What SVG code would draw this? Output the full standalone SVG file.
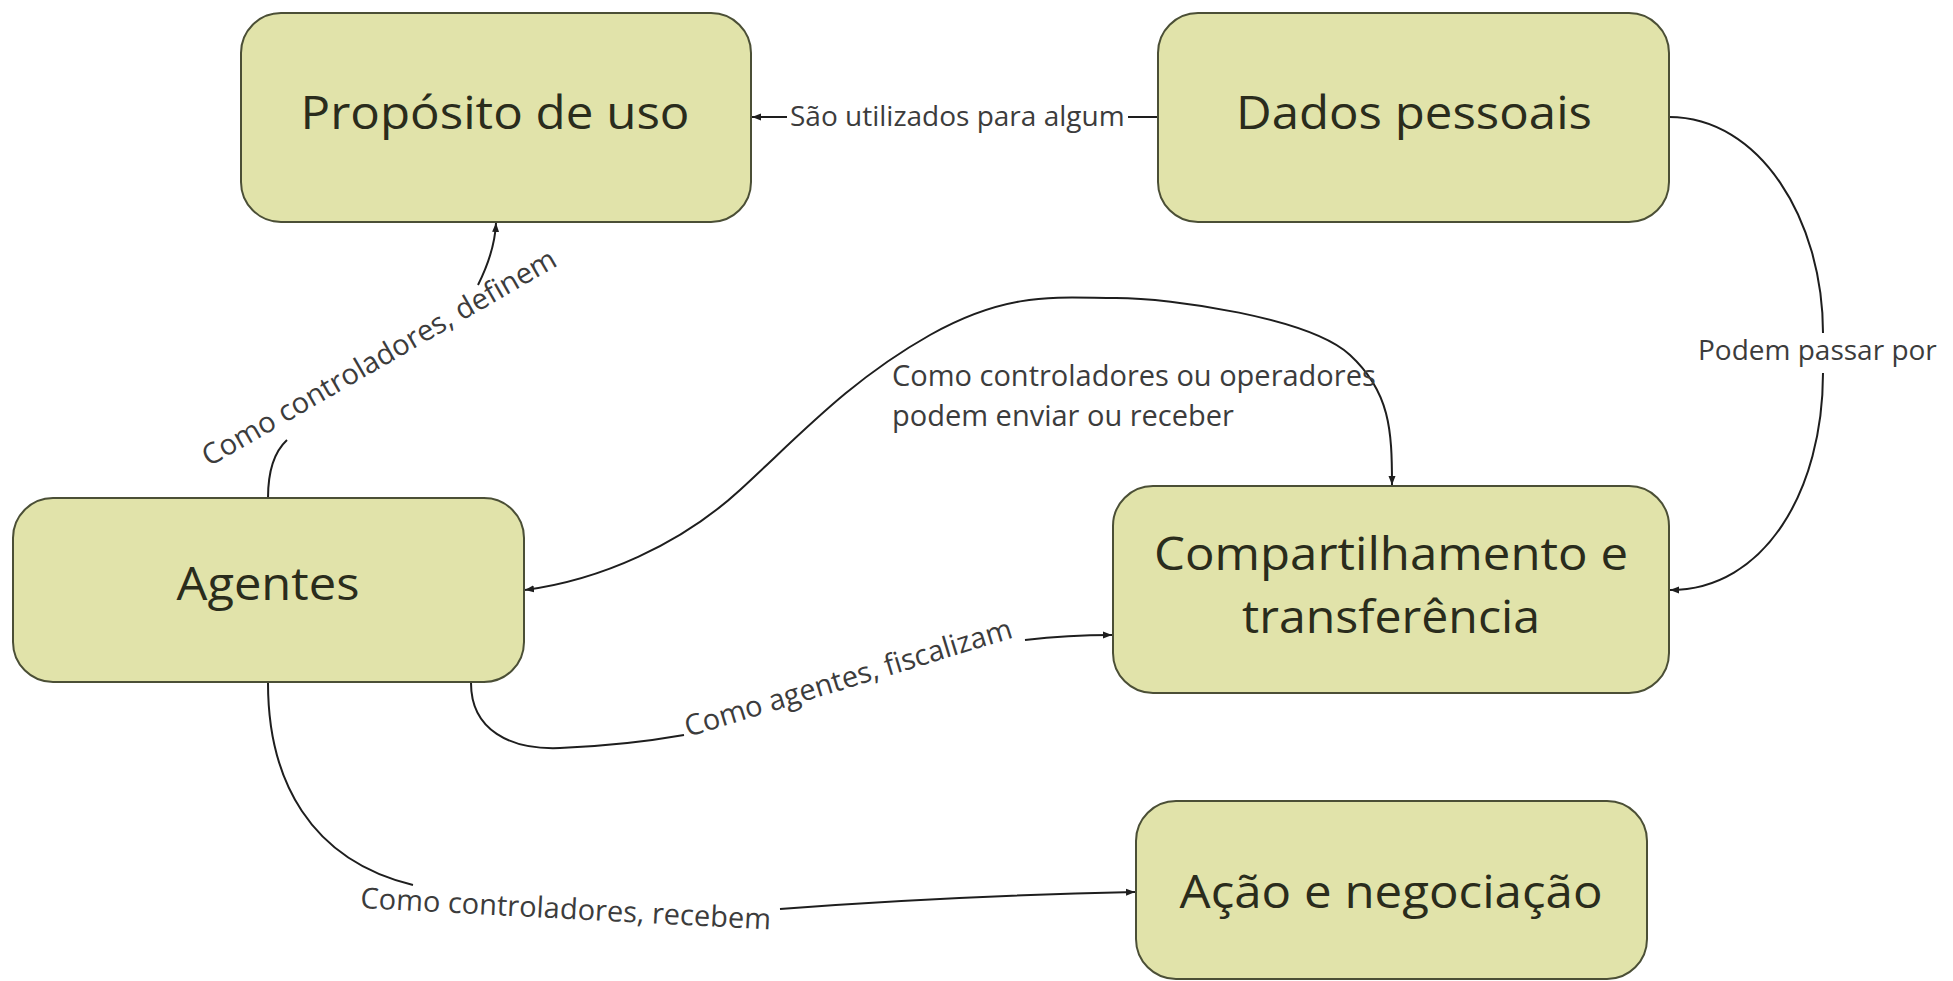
<svg xmlns="http://www.w3.org/2000/svg" width="1953" height="981" viewBox="0 0 1953 981">
<defs>
<marker id="arr" markerUnits="userSpaceOnUse" markerWidth="10" markerHeight="8" refX="9" refY="4" orient="auto-start-reverse" viewBox="0 0 10 8"><path d="M0,0.5 L9,4 L0,7.5 z" fill="#1e1e1e"/></marker>
</defs>
<style>
.node rect{fill:#e1e3aa;stroke:#4b4f36;stroke-width:2}
.node text{font-family:"Open Sans","Liberation Sans",sans-serif;font-size:45px;fill:#2a2c1c;text-anchor:middle}
.edge{fill:none;stroke:#1e1e1e;stroke-width:2}
.lbl{font-family:"Open Sans","Liberation Sans",sans-serif;font-size:28px;fill:#3c3c3c}
.lbl2{font-family:"Open Sans","Liberation Sans",sans-serif;font-size:29px;fill:#3c3c3c}
</style>
<rect width="1953" height="981" fill="#ffffff"/>
<g id="connectors">
  <g id="e-dados-proposito">
    <path class="edge" d="M1158 117 H1128"/>
    <path class="edge" d="M787 117 H752" marker-end="url(#arr)"/>
    <text class="lbl" x="790" y="126">São utilizados para algum</text>
  </g>
  <g id="e-dados-compart">
    <path class="edge" d="M1669 117 C1760 117, 1823 220, 1823 333"/>
    <path class="edge" d="M1823 373 C1823 490, 1765 590, 1670 590" marker-end="url(#arr)"/>
    <text class="lbl" x="1698" y="360">Podem passar por</text>
  </g>
  <g id="e-agentes-proposito">
    <path class="edge" d="M268 498 C268 472, 274 452, 287 440"/>
    <path class="edge" d="M478 285 C488 265, 495 245, 496 223" marker-end="url(#arr)"/>
    <text class="lbl2" x="209" y="467" transform="rotate(-30 209 467)">Como controladores, definem</text>
  </g>
  <g id="e-agentes-compart-troca">
    <path class="edge" d="M525 590 C600 580, 680 545, 740 490 S850 380, 930 335 S1060 298, 1116 298 S1310 318, 1350 355 S1392 430, 1392 485" marker-start="url(#arr)" marker-end="url(#arr)"/>
    <text class="lbl2" x="892" y="386">Como controladores ou operadores</text>
    <text class="lbl2" x="892" y="426">podem enviar ou receber</text>
  </g>
  <g id="e-agentes-compart-fiscal">
    <path class="edge" d="M471 683 C471 730, 510 750, 560 748 C610 746, 650 741, 684 735"/>
    <path class="edge" d="M1025 640 Q1068 635, 1112 635" marker-end="url(#arr)"/>
    <text class="lbl2" x="688" y="737" transform="rotate(-17 688 737)">Como agentes, fiscalizam</text>
  </g>
  <g id="e-agentes-acao">
    <path class="edge" d="M268 683 C268 780, 310 860, 413 885"/>
    <path class="edge" d="M780 909 Q950 896, 1135 892" marker-end="url(#arr)"/>
    <text class="lbl2" x="360" y="908" transform="rotate(3 360 908)">Como controladores, recebem</text>
  </g>
</g>
<g id="proposito" class="node">
  <rect x="241" y="13" width="510" height="209" rx="40"/>
  <text x="495" y="129" textLength="389" lengthAdjust="spacingAndGlyphs">Propósito de uso</text>
</g>
<g id="dados" class="node">
  <rect x="1158" y="13" width="511" height="209" rx="40"/>
  <text x="1414" y="129" textLength="356" lengthAdjust="spacingAndGlyphs">Dados pessoais</text>
</g>
<g id="agentes" class="node">
  <rect x="13" y="498" width="511" height="184" rx="40"/>
  <text x="268" y="600" textLength="183" lengthAdjust="spacingAndGlyphs">Agentes</text>
</g>
<g id="compartilhamento" class="node">
  <rect x="1113" y="486" width="556" height="207" rx="40"/>
  <text x="1391" y="570" textLength="474" lengthAdjust="spacingAndGlyphs">Compartilhamento e</text>
  <text x="1391" y="633" textLength="298" lengthAdjust="spacingAndGlyphs">transferência</text>
</g>
<g id="acao" class="node">
  <rect x="1136" y="801" width="511" height="178" rx="40"/>
  <text x="1391" y="908" textLength="423" lengthAdjust="spacingAndGlyphs">Ação e negociação</text>
</g>
</svg>
